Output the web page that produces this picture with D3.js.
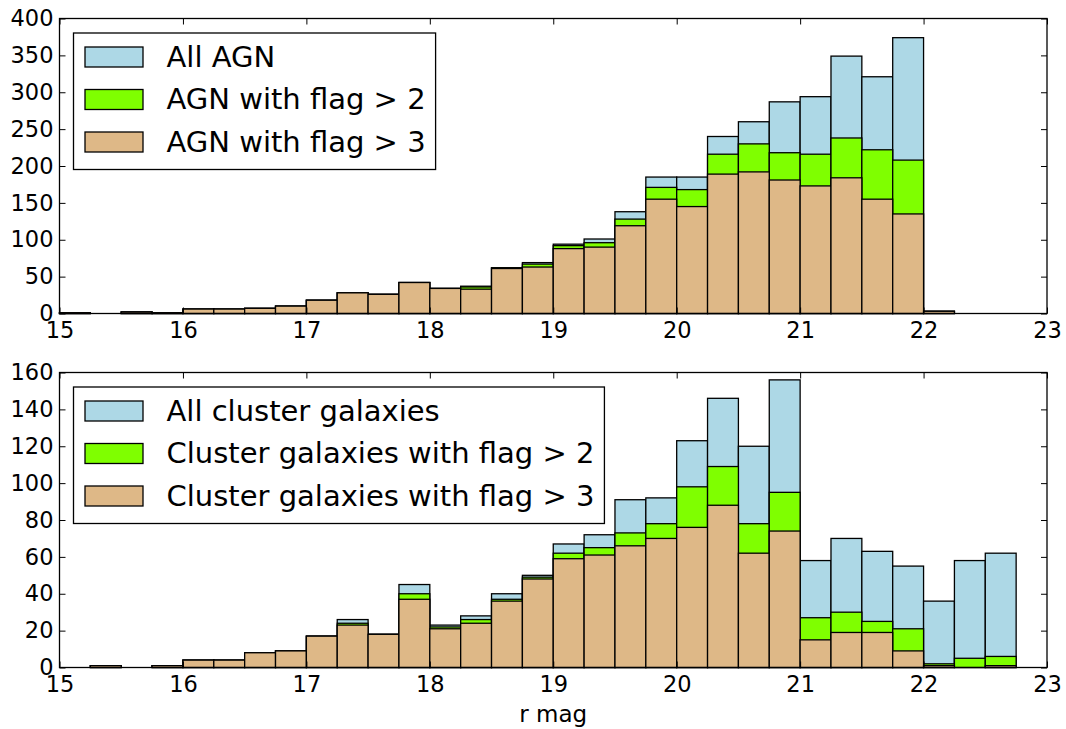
<!DOCTYPE html>
<html lang="en">
<head>
<meta charset="utf-8" />
<title>r mag histograms</title>
<script src="https://d3js.org/d3.v7.min.js"></script>
<style>
  body { margin:0; background:#fff; }
  svg text { font-family: "DejaVu Sans", sans-serif; fill:#000; }
</style>
</head>
<body>
<div id="myDiv"></div>
<script>
// left edge of every magnitude bin, each bin is 0.25 mag wide
var binLeft = [15.0,15.25,15.5,15.75,16.0,16.25,16.5,16.75,17.0,17.25,17.5,17.75,
               18.0,18.25,18.5,18.75,19.0,19.25,19.5,19.75,20.0,20.25,20.5,20.75,
               21.0,21.25,21.5,21.75,22.0,22.25,22.5];
var binWidth = 0.25;

// top panel counts
var agnAll   = [1,0,2,1,6,6,7,10,18,28,26,42,34,37,62,69,94,101,138,185,185,240,260,287,294,349,321,374,3,0,0];
var agnFlag2 = [1,0,2,1,6,6,7,10,18,28,26,42,34,36,62,67,92,96,128,171,168,216,230,218,216,238,222,208,3,0,0];
var agnFlag3 = [1,0,2,1,6,6,7,10,18,28,26,42,34,33,61,63,88,90,119,155,145,189,192,181,173,184,155,135,3,0,0];

// bottom panel counts
var clAll   = [0,1,0,1,4,4,8,9,17,26,18,45,23,28,40,50,67,72,91,92,123,146,120,156,58,70,63,55,36,58,62];
var clFlag2 = [0,1,0,1,4,4,8,9,17,24,18,40,22,26,37,49,62,65,73,78,98,109,78,95,27,30,25,21,2,5,6];
var clFlag3 = [0,1,0,1,4,4,8,9,17,23,18,37,21,24,36,48,59,61,66,70,76,88,62,74,15,19,19,9,1,0,1];

// axis ticks and legend text
var xTicks = [15,16,17,18,19,20,21,22,23];
var topYTicks = [0,50,100,150,200,250,300,350,400];
var botYTicks = [0,20,40,60,80,100,120,140,160];
var topLabels = ["All AGN","AGN with flag > 2","AGN with flag > 3"];
var botLabels = ["All cluster galaxies","Cluster galaxies with flag > 2","Cluster galaxies with flag > 3"];
var colors = ["#add8e6","#7fff00","#deb887"];

var width = 1066, height = 729;
var left = 59.5, right = 1047;

var svg = d3.select("#myDiv").append("svg")
    .attr("width", width)
    .attr("height", height);

var xScale = d3.scaleLinear().domain([15,23]).range([left,right]);

function drawPanel(top, bottom, yTicks, series, labels){
    var yScale = d3.scaleLinear()
        .domain([yTicks[0], yTicks[yTicks.length-1]])
        .range([bottom, top]);

    var g = svg.append("g");

    // bars are overlaid, not stacked: biggest sample first
    series.forEach(function(values, s){
        g.selectAll(null)
            .data(values)
            .enter()
            .append("rect")
            .attr("x", function(d,i){ return xScale(binLeft[i]); })
            .attr("width", function(d,i){ return xScale(binLeft[i]+binWidth) - xScale(binLeft[i]); })
            .attr("y", function(d){ return yScale(d); })
            .attr("height", function(d){ return yScale(0) - yScale(d); })
            .attr("fill", colors[s])
            .attr("stroke", "#000")
            .attr("stroke-width", 1.3);
    });

    // ticks point inward on all four sides
    var xAxis = d3.axisBottom(xScale).tickValues(xTicks).tickSize(-6).tickPadding(9).tickFormat(d3.format("d"));
    var xTop = d3.axisTop(xScale).tickValues(xTicks).tickSize(-6).tickFormat("");
    var yAxis = d3.axisLeft(yScale).tickValues(yTicks).tickSize(-6).tickPadding(6);
    var yRight = d3.axisRight(yScale).tickValues(yTicks).tickSize(-6).tickFormat("");

    [
      [xAxis, "translate(0," + bottom + ")"],
      [xTop, "translate(0," + top + ")"],
      [yAxis, "translate(" + left + ",0)"],
      [yRight, "translate(" + right + ",0)"]
    ].forEach(function(a){
        var ax = g.append("g").attr("transform", a[1]).call(a[0]);
        ax.select(".domain").remove();
        ax.selectAll("line").attr("stroke", "#000").attr("stroke-width", 1);
        ax.selectAll("text").attr("font-size", 22.5).attr("fill", "#000");
    });

    // frame
    g.append("rect")
        .attr("x", left).attr("y", top)
        .attr("width", right-left).attr("height", bottom-top)
        .attr("fill", "none").attr("stroke", "#000").attr("stroke-width", 1.3);

    // legend
    var lx = left + 14, ly = top + 14.5;
    var leg = g.append("g");
    var box = leg.append("rect")
        .attr("x", lx).attr("y", ly)
        .attr("height", 136.5)
        .attr("fill", "#fff").attr("stroke", "#000").attr("stroke-width", 1.3);
    var maxLen = 0;
    labels.forEach(function(t, i){
        var py = ly + 14 + i*42.5;
        leg.append("rect")
            .attr("x", lx + 11.5).attr("y", py)
            .attr("width", 58).attr("height", 20)
            .attr("fill", colors[i]).attr("stroke", "#000").attr("stroke-width", 1.3);
        var txt = leg.append("text")
            .attr("x", lx + 93).attr("y", py + 19.5)
            .attr("font-size", 29)
            .text(t);
        maxLen = Math.max(maxLen, txt.node().getComputedTextLength());
    });
    box.attr("width", 93 + maxLen + 10);
}

drawPanel(18.5, 313.5, topYTicks, [agnAll, agnFlag2, agnFlag3], topLabels);
drawPanel(372.5, 667.5, botYTicks, [clAll, clFlag2, clFlag3], botLabels);

// x axis title
svg.append("text")
    .attr("x", (left+right)/2).attr("y", 722)
    .attr("text-anchor", "middle")
    .attr("font-size", 23)
    .text("r mag");
</script>
</body>
</html>
